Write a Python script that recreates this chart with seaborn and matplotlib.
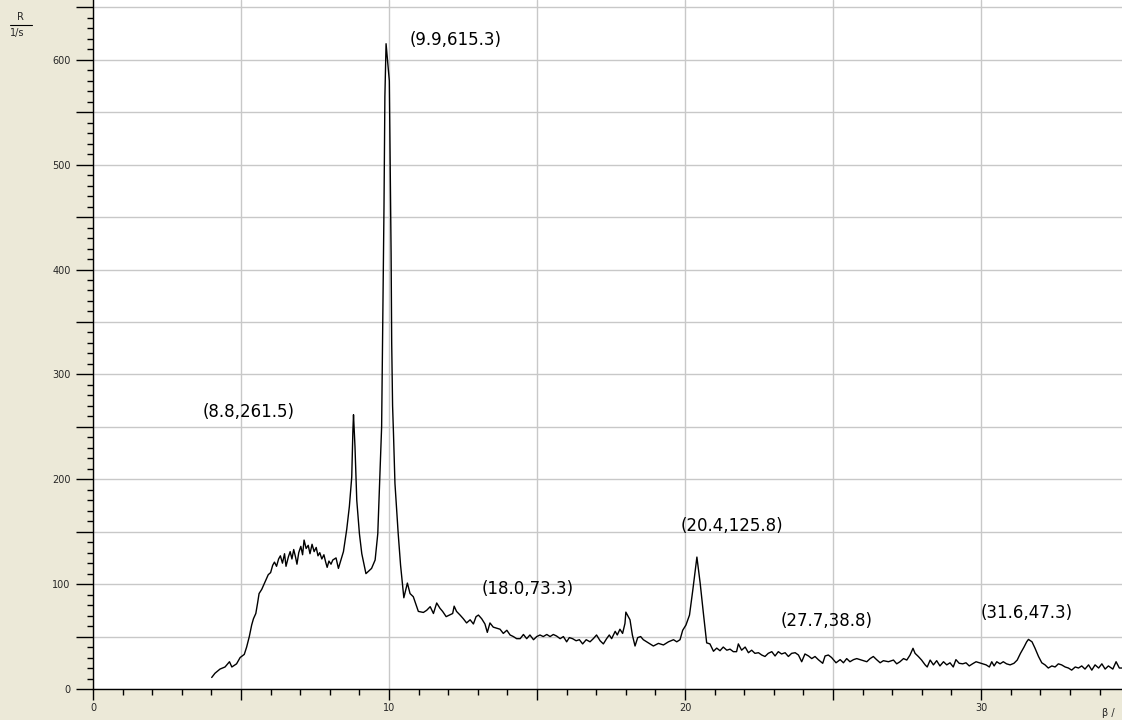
import pandas as pd
import seaborn as sns
import matplotlib.pyplot as plt
from matplotlib.ticker import MultipleLocator, FuncFormatter
from matplotlib.lines import Line2D

# Measured spectrum: angle beta (deg) vs. count rate R (1/s)
beta = [4.01, 4.12, 4.29, 4.46, 4.61, 4.69, 4.85, 4.97, 5.11, 5.19, 5.28, 5.36, 5.42, 5.50,
        5.56, 5.61, 5.70, 5.81, 5.92, 6.00, 6.07, 6.13, 6.20, 6.27, 6.33, 6.40, 6.47, 6.52,
        6.60, 6.66, 6.72, 6.78, 6.84, 6.89, 6.95, 7.02, 7.08, 7.13, 7.20, 7.27, 7.33, 7.40,
        7.47, 7.54, 7.60, 7.66, 7.73, 7.80, 7.86, 7.91, 7.97, 8.04, 8.10, 8.21, 8.29, 8.46,
        8.57, 8.66, 8.74, 8.78, 8.80, 8.85,
        8.91, 9.00, 9.08, 9.22, 9.41, 9.53, 9.62, 9.70, 9.75, 9.83, 9.86, 9.90, 10.01, 10.03,
        10.07, 10.09, 10.12, 10.15, 10.20, 10.31, 10.39, 10.50, 10.62, 10.71, 10.82, 10.99,
        11.16, 11.27, 11.39, 11.50, 11.61, 11.72, 11.81, 11.93, 12.04, 12.15, 12.20, 12.28,
        12.40, 12.51, 12.62, 12.74, 12.85, 12.94, 13.02, 13.13, 13.24, 13.32, 13.41, 13.52,
        13.64, 13.75, 13.86, 13.98, 14.09, 14.20, 14.31, 14.43, 14.54, 14.65, 14.76, 14.88,
        14.99, 15.10, 15.21, 15.33, 15.44, 15.55, 15.66, 15.78, 15.89, 16.00, 16.09, 16.20,
        16.32, 16.43, 16.54, 16.66, 16.79, 16.90, 17.01, 17.13, 17.24, 17.35, 17.44, 17.52,
        17.64, 17.71, 17.80, 17.89, 17.97, 18.00, 18.14, 18.22, 18.31, 18.40, 18.50, 18.59,
        18.76, 18.93, 19.10, 19.27, 19.44, 19.61, 19.72, 19.83, 19.92, 20.03, 20.15, 20.26,
        20.40, 20.51, 20.62, 20.73, 20.84, 20.96, 21.07, 21.18, 21.29, 21.41, 21.52, 21.63,
        21.74, 21.80, 21.91, 22.03, 22.14, 22.25, 22.36, 22.48, 22.59, 22.70, 22.81, 22.93,
        23.04, 23.15, 23.26, 23.38, 23.49, 23.60, 23.72, 23.83, 23.94, 24.05, 24.17, 24.28,
        24.39, 24.50, 24.65, 24.73, 24.84, 24.95, 25.10, 25.24, 25.35, 25.46, 25.57, 25.69,
        25.80, 25.91, 26.02, 26.14, 26.25, 26.36, 26.47, 26.59, 26.70, 26.87, 27.04, 27.15,
        27.26, 27.38, 27.49, 27.60, 27.70, 27.77, 27.88, 27.99, 28.11, 28.18, 28.28, 28.39,
        28.50, 28.61, 28.73, 28.84, 28.95, 29.06, 29.15, 29.26, 29.38, 29.49, 29.60, 29.71,
        29.83, 29.94, 30.06, 30.17, 30.28, 30.36, 30.44, 30.53, 30.64, 30.75, 30.86, 30.98,
        31.11, 31.22, 31.33, 31.45, 31.54, 31.60, 31.72, 31.82, 31.94, 32.05, 32.16, 32.27,
        32.39, 32.50, 32.61, 32.72, 32.84, 32.95, 33.06, 33.18, 33.29, 33.40, 33.51, 33.63,
        33.74, 33.85, 33.97, 34.08, 34.19, 34.30, 34.45, 34.56, 34.67, 34.76]
rate = [11, 15, 19, 21, 26, 21, 24, 30, 33, 40, 50, 61, 67, 72,
        82, 91, 95, 102, 109, 111, 118, 121, 117, 124, 127, 120, 129, 117,
        126, 131, 124, 133, 126, 119, 130, 136, 128, 142, 134, 137, 129, 138,
        131, 135, 127, 130, 124, 128, 121, 116, 122, 119, 123, 125, 115, 131,
        152, 174, 202, 247, 261.5, 231,
        180, 148, 129, 110, 115, 123, 148, 212, 250, 460, 565, 615.3, 580, 523,
        415, 330, 270, 244, 196, 148, 118, 87, 101, 91, 88, 74,
        73, 75, 78.5, 72, 82, 77, 74, 69, 70.5, 72, 79, 74,
        70.5, 67, 63, 66, 62, 69, 70.5, 67, 62, 54, 63, 59,
        58, 57, 53, 56, 51.5, 50, 48, 48, 52, 48, 51.5, 47,
        50, 51.5, 50, 52, 50, 52, 50.5, 48, 50, 45, 49, 48,
        46, 47, 43, 47, 45, 48, 51.5, 46, 43, 48, 51.5, 48,
        55, 51.5, 57, 53, 62.5, 73.3, 66, 51.5, 41, 49, 50, 47,
        44, 41, 43.5, 42, 45, 47, 45, 47, 56, 61, 70.5, 94,
        125.8, 101, 72, 44, 43, 36, 39, 36.5, 40, 37, 38, 35.6,
        35.6, 43, 37, 40, 34.6, 37, 34, 34.6, 32.4, 31, 34, 35.6,
        31.5, 35.6, 33.4, 34.6, 31, 34, 34.6, 32.4, 26, 33.4, 31.5, 29,
        31, 28, 24.5, 31.5, 32.4, 30, 25, 28, 25, 29, 26, 28,
        29, 28, 27, 26, 29, 31, 28, 25, 27, 26, 27.6, 24,
        26, 29, 27.6, 32.4, 38.8, 34, 31, 27.6, 23, 21, 27.6, 23,
        27, 22, 26, 23, 25, 21, 28, 24.5, 24, 25, 22, 24,
        26, 25, 24, 23, 21, 26, 22, 26, 24, 26, 24, 23,
        24.5, 27.6, 34, 40, 45, 47.3, 45, 39, 31, 25, 23, 20,
        22, 21, 24, 23, 21, 20, 18, 21, 20, 22, 19, 23,
        18, 23, 20, 24, 19, 22, 19, 26, 20, 20]

# Labelled peaks and where their labels sit
peak_beta = [9.9, 8.8, 20.4, 18.0, 27.7, 31.6]
peak_rate = [615.3, 261.5, 125.8, 73.3, 38.8, 47.3]
label_x = [10.7, 3.72, 19.86, 13.14, 23.24, 29.97]
label_y = [619, 264, 155, 95, 65, 72.5]

df = pd.DataFrame({'beta': beta, 'R': rate})

sns.set_style('white')
plt.rcParams['font.family'] = ['DejaVu Sans']

panel = '#ece9d8'
fig = plt.figure(figsize=(11.22, 7.2), dpi=100, facecolor=panel)
ax = fig.add_axes([93 / 1122, 31 / 720, 1 - 93 / 1122, 689 / 720])
ax.set_facecolor('white')

sns.lineplot(data=df, x='beta', y='R', color='black', linewidth=1.0, ax=ax)

ax.set_xlim(0, 34.76)
ax.set_ylim(0, 657)
ax.set_xlabel('')
ax.set_ylabel('')

# ticks: labels every 10 deg / 100 counts, grid every 5 deg / 50 counts
ax.xaxis.set_major_locator(MultipleLocator(5))
ax.xaxis.set_minor_locator(MultipleLocator(1))
ax.yaxis.set_major_locator(MultipleLocator(50))
ax.yaxis.set_minor_locator(MultipleLocator(10))
ax.xaxis.set_major_formatter(FuncFormatter(lambda v, p: f'{v:.0f}' if round(v) % 10 == 0 else ''))
ax.yaxis.set_major_formatter(FuncFormatter(lambda v, p: f'{v:.0f}' if round(v) % 100 == 0 else ''))
ax.tick_params(axis='x', which='major', direction='out', length=8, width=1, color='black',
               labelsize=7, pad=2, bottom=True)
ax.tick_params(axis='y', which='major', direction='out', length=12, width=1, color='black',
               labelsize=7, pad=4, left=True)
ax.tick_params(which='minor', direction='out', length=4, width=1, color='black',
               bottom=True, left=True)

ax.grid(True, which='major', color='#c8c8c8', linewidth=1)
ax.set_axisbelow(True)
for s in ['top', 'right']:
    ax.spines[s].set_visible(False)
for s in ['left', 'bottom']:
    ax.spines[s].set_color('black')
    ax.spines[s].set_linewidth(1)

for px, py, lx, ly in zip(peak_beta, peak_rate, label_x, label_y):
    ax.text(lx, ly, f'({px:.1f},{py:.1f})', fontsize=12, ha='left', va='center', color='black')

# axis captions in the grey panel
fig.text(20 / 1122, 1 - 17 / 720, 'R', fontsize=7, ha='center', va='center')
fig.add_artist(Line2D([10 / 1122, 32 / 1122], [1 - 25 / 720, 1 - 25 / 720],
                      color='black', linewidth=0.8, transform=fig.transFigure))
fig.text(10 / 1122, 1 - 33 / 720, '1/s', fontsize=7, ha='left', va='center')
fig.text(1108 / 1122, 1 - 713 / 720, 'β /', fontsize=7, ha='center', va='center')

plt.savefig('out.png', dpi=100, facecolor=panel)
